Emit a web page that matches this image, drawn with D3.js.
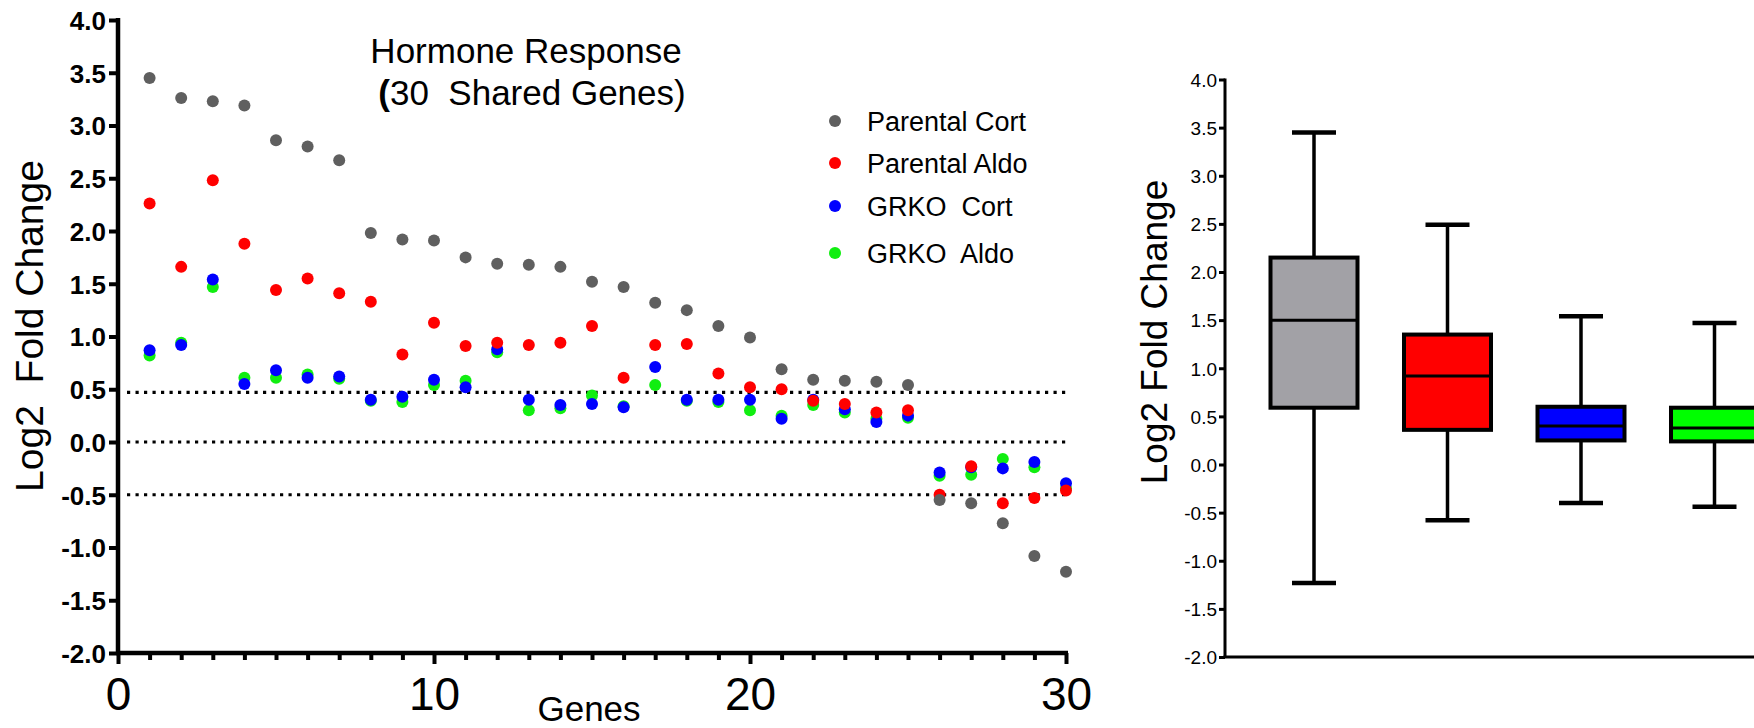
<!DOCTYPE html>
<html>
<head>
<meta charset="utf-8">
<script src="https://cdn.jsdelivr.net/npm/d3@7"></script>
<style>
  body { margin: 0; background: #fff; }
  svg { display: block; font-family: "Liberation Sans", Arial, sans-serif; }
  text { white-space: pre; }
</style>
</head>
<body>
<svg id="chart" width="1754" height="728"></svg>
<script>
// ---- data ----
var genes = [1,2,3,4,5,6,7,8,9,10,11,12,13,14,15,16,17,18,19,20,21,22,23,24,25,26,27,28,29,30];
var parentalCort = [3.45,3.26,3.23,3.19,2.86,2.80,2.67,1.98,1.92,1.91,1.75,1.69,1.68,1.66,1.52,1.47,1.32,1.25,1.10,0.99,0.69,0.59,0.58,0.57,0.54,-0.55,-0.58,-0.77,-1.08,-1.23];
var parentalAldo = [2.26,1.66,2.48,1.88,1.44,1.55,1.41,1.33,0.83,1.13,0.91,0.94,0.92,0.94,1.10,0.61,0.92,0.93,0.65,0.52,0.50,0.39,0.36,0.28,0.30,-0.50,-0.23,-0.58,-0.53,-0.46];
var grkoCort     = [0.87,0.92,1.54,0.55,0.68,0.61,0.62,0.40,0.43,0.59,0.52,0.88,0.40,0.35,0.36,0.33,0.71,0.40,0.40,0.40,0.22,0.40,0.31,0.19,0.25,-0.29,-0.24,-0.25,-0.19,-0.39];
var grkoAldo     = [0.82,0.94,1.47,0.61,0.61,0.64,0.60,0.39,0.38,0.54,0.58,0.85,0.30,0.32,0.44,0.34,0.54,0.39,0.38,0.30,0.25,0.35,0.28,0.22,0.23,-0.32,-0.31,-0.16,-0.24,-0.44];

var seriesNames  = ["Parental Cort", "Parental Aldo", "GRKO  Cort", "GRKO  Aldo"];
var seriesColors = ["#5f5f5f", "#ff0000", "#0000ff", "#11ee11"];
var refLines     = [0.47, 0, -0.5];

var yTicks      = [-2,-1.5,-1,-0.5,0,0.5,1,1.5,2,2.5,3,3.5,4];
var xMajorTicks = [0,10,20,30];

// box plot summary (right panel)
var boxGroups = ["Parental Cort", "Parental Aldo", "GRKO Cort", "GRKO Aldo"];
var boxMin    = [-1.23, -0.58, -0.40, -0.44];
var boxQ1     = [0.59, 0.36, 0.25, 0.24];
var boxMedian = [1.50, 0.92, 0.40, 0.38];
var boxQ3     = [2.15, 1.35, 0.60, 0.59];
var boxMax    = [3.45, 2.49, 1.54, 1.47];
var boxColors = ["#a2a1a6", "#ff0000", "#0000ff", "#00ff00"];

var svg = d3.select("#chart");
// plain hyphen for negatives, like the original
var fmt1 = function(d){ return d.toFixed(1); };

// ================= left panel: scatter =================
var x = d3.scaleLinear().domain([0, 30]).range([118, 1066]);
var y = d3.scaleLinear().domain([-2, 4]).range([653, 20]);

// dotted reference lines
svg.selectAll("line.ref")
  .data(refLines)
  .enter().append("line")
    .attr("class", "ref")
    .attr("x1", x(0) + 9).attr("x2", x(30))
    .attr("y1", function(d){ return y(d); })
    .attr("y2", function(d){ return y(d); })
    .style("stroke", "#000")
    .style("stroke-width", 3.2)
    .style("stroke-dasharray", "3.2 5.3");

// y axis
var yAx = svg.append("g")
  .attr("transform", "translate(" + x(0) + ",0)")
  .call(d3.axisLeft(y).tickValues(yTicks).tickFormat(fmt1).tickSize(9).tickPadding(3));
yAx.select(".domain").style("stroke-width", 4.5).attr("d", "M0," + (y(4) - 2) + "V" + (y(-2) + 2));
yAx.selectAll(".tick line").style("stroke-width", 4);
yAx.selectAll(".tick text")
  .style("font-size", "26px").style("font-weight", "bold")
  .style("font-family", "'Liberation Sans', Arial, sans-serif")
  .attr("dy", "0.36em");

// x axis: minor ticks at every gene, major ticks with labels
var minor = genes.filter(function(g){ return g % 10 !== 0; });
var xMin = svg.append("g")
  .attr("transform", "translate(0," + y(-2) + ")")
  .call(d3.axisBottom(x).tickValues(minor).tickSize(7).tickFormat(""));
xMin.select(".domain").remove();
xMin.selectAll(".tick line").style("stroke-width", 4);

var xAx = svg.append("g")
  .attr("transform", "translate(0," + y(-2) + ")")
  .call(d3.axisBottom(x).tickValues(xMajorTicks).tickSize(11).tickFormat(d3.format("d")));
xAx.select(".domain").style("stroke-width", 4.5).attr("d", "M" + (x(0) - 2) + ",0H" + (x(30) + 2));
xAx.selectAll(".tick line").style("stroke-width", 4);
xAx.selectAll(".tick text")
  .style("font-size", "46px")
  .style("font-family", "'Liberation Sans', Arial, sans-serif")
  .attr("y", 57).attr("dy", 0);

// points
var allSeries = [parentalCort, parentalAldo, grkoCort, grkoAldo];
var drawOrder = [3, 2, 1, 0];
drawOrder.forEach(function(si){
  svg.append("g").selectAll("circle")
    .data(allSeries[si])
    .enter().append("circle")
      .attr("cx", function(d, i){ return x(genes[i]); })
      .attr("cy", function(d){ return y(d); })
      .attr("r", 6)
      .style("fill", seriesColors[si]);
});

// axis titles
svg.append("text")
  .attr("transform", "translate(43,326) rotate(-90)")
  .attr("text-anchor", "middle")
  .style("font-size", "39px")
  .text("Log2  Fold Change");

svg.append("text")
  .attr("x", 589).attr("y", 721)
  .attr("text-anchor", "middle")
  .style("font-size", "35px")
  .text("Genes");

// title
svg.append("text")
  .attr("x", 526).attr("y", 63)
  .attr("text-anchor", "middle")
  .style("font-size", "35px")
  .text("Hormone Response");
var t2 = svg.append("text")
  .attr("x", 532).attr("y", 105)
  .attr("text-anchor", "middle")
  .style("font-size", "35px");
t2.append("tspan").style("font-weight", "bold").text("(");
t2.append("tspan").text("30  Shared Genes)");

// legend
var legY = [121, 163, 206, 253];
var leg = svg.append("g").selectAll("g")
  .data(seriesNames)
  .enter().append("g")
    .attr("transform", function(d, i){ return "translate(835," + legY[i] + ")"; });
leg.append("circle").attr("r", 6).style("fill", function(d, i){ return seriesColors[i]; });
leg.append("text")
  .attr("x", 32).attr("y", 9.5)
  .style("font-size", "27px")
  .text(function(d){ return d; });

// ================= right panel: box plot =================
var yb = d3.scaleLinear().domain([-2, 4]).range([657, 79.5]);
var xb = d3.scalePoint().domain(boxGroups).range([1314, 1714.5]);
var boxW = 87, capW = 44;

var ybAx = svg.append("g")
  .attr("transform", "translate(1225,0)")
  .call(d3.axisLeft(yb).tickValues(yTicks).tickFormat(fmt1).tickSize(6).tickPadding(2));
ybAx.select(".domain").style("stroke-width", 3).attr("d", "M0," + (yb(4) - 1) + "V" + yb(-2));
ybAx.selectAll(".tick line").style("stroke-width", 3);
ybAx.selectAll(".tick text")
  .style("font-size", "19px")
  .style("font-family", "'Liberation Sans', Arial, sans-serif")
  .attr("dy", "0.36em");

svg.append("line")
  .attr("x1", 1223.5).attr("x2", 1754)
  .attr("y1", yb(-2)).attr("y2", yb(-2))
  .style("stroke", "#000").style("stroke-width", 3);

var boxes = svg.append("g").selectAll("g")
  .data(boxGroups)
  .enter().append("g");

// whiskers
boxes.append("line")
  .attr("x1", function(d){ return xb(d); }).attr("x2", function(d){ return xb(d); })
  .attr("y1", function(d, i){ return yb(boxMax[i]); })
  .attr("y2", function(d, i){ return yb(boxMin[i]); })
  .style("stroke", "#000").style("stroke-width", 3.5);
// caps
[boxMax, boxMin].forEach(function(arr){
  boxes.append("line")
    .attr("x1", function(d){ return xb(d) - capW / 2; })
    .attr("x2", function(d){ return xb(d) + capW / 2; })
    .attr("y1", function(d, i){ return yb(arr[i]); })
    .attr("y2", function(d, i){ return yb(arr[i]); })
    .style("stroke", "#000").style("stroke-width", 4.5);
});
// boxes
boxes.append("rect")
  .attr("x", function(d){ return xb(d) - boxW / 2; })
  .attr("y", function(d, i){ return yb(boxQ3[i]); })
  .attr("width", boxW)
  .attr("height", function(d, i){ return yb(boxQ1[i]) - yb(boxQ3[i]); })
  .style("fill", function(d, i){ return boxColors[i]; })
  .style("stroke", "#000").style("stroke-width", 4);
// medians
boxes.append("line")
  .attr("x1", function(d){ return xb(d) - boxW / 2; })
  .attr("x2", function(d){ return xb(d) + boxW / 2; })
  .attr("y1", function(d, i){ return yb(boxMedian[i]); })
  .attr("y2", function(d, i){ return yb(boxMedian[i]); })
  .style("stroke", "#000").style("stroke-width", 3);

svg.append("text")
  .attr("transform", "translate(1167,332) rotate(-90)")
  .attr("text-anchor", "middle")
  .style("font-size", "37px")
  .text("Log2 Fold Change");
</script>
</body>
</html>
